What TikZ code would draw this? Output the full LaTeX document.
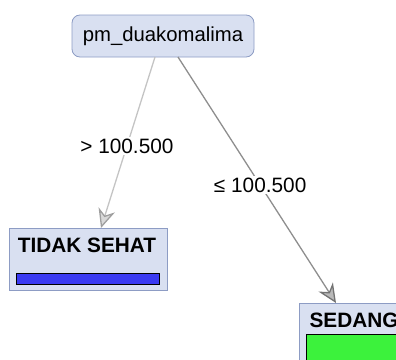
\documentclass[tikz,border=0pt]{standalone}
\usepackage{fontspec}
\setmainfont{Liberation Sans}
\usetikzlibrary{arrows.meta,positioning}
\definecolor{nodefill}{HTML}{D9E0F1}
\definecolor{nodeline}{HTML}{8D9CC4}
\definecolor{barblue}{HTML}{3A3AF2}
\definecolor{bargreen}{HTML}{3CF23C}
\definecolor{lightedge}{HTML}{C4C4C4}
\definecolor{darkedge}{HTML}{8E8E8E}
\begin{document}
\begin{tikzpicture}
[x=1pt,y=-1pt,
 every node/.style={inner sep=0pt,outer sep=0pt},
 split/.style={draw=nodeline,fill=nodefill,rounded corners=8pt,thick,minimum width=182pt,minimum height=42pt,font=\fontsize{20.3}{24}\selectfont},
 leaf/.style={draw=nodeline,fill=nodefill,thick,anchor=north west},
 leaftext/.style={anchor=base,font=\fontsize{20.8}{24}\selectfont\bfseries},
 bar/.style={draw=black,thick,anchor=north west},
 cond/.style={fill=white,inner sep=2pt,font=\fontsize{20.8}{24}\selectfont},
 branch/.style={line width=1.3pt}]
\useasboundingbox (0,0) rectangle (396,359);
\clip (0,0) rectangle (396,359);
\node[split] (root) at (163,36) {pm\_duakomalima};
% leaf nodes
\node[leaf,minimum width=158pt,minimum height=62pt] (tidak) at (9,228) {};
\node[leaftext] (tidaktxt) at (87,252) {TIDAK SEHAT};
\node[bar,fill=barblue,minimum width=143pt,minimum height=11pt] (tidakbar) at (16,273) {};
\node[leaf,minimum width=110pt,minimum height=80pt] (sedang) at (299,303) {};
\node[leaftext] (sedangtxt) at (354,327) {SEDANG};
\node[bar,fill=bargreen,minimum width=97pt,minimum height=40pt] (sedangbar) at (306,334) {};
% branches
\draw[branch,draw=lightedge,-{Stealth[length=19pt,width=17pt,inset=6pt,color=gray!75,fill=gray!30]}]
  ([xshift=-8pt]root.south) -- node[cond,pos=0.52] (gt) {> 100.500} ([xshift=13pt]tidak.north);
\draw[branch,draw=darkedge,-{Stealth[length=19pt,width=17pt,inset=6pt,color=gray!110,fill=gray!55]}]
  ([xshift=15pt]root.south) -- node[cond,pos=0.52] (le) {≤ 100.500} ([xshift=-18pt]sedang.north);
\end{tikzpicture}
\end{document}
